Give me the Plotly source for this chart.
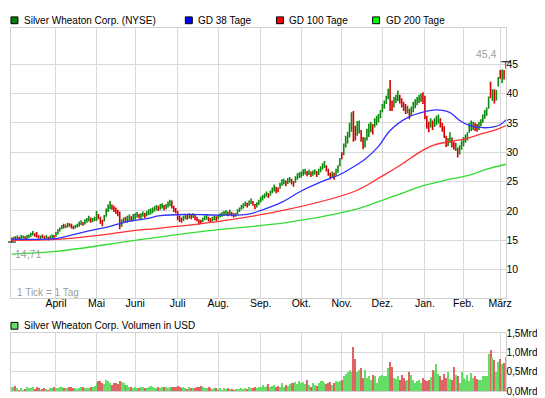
import plotly.graph_objects as go

W, H = 545, 398

# ---------------- data ----------------
month_names = ["März", "April", "Mai", "Juni", "Juli", "Aug.", "Sep.", "Okt.",
               "Nov.", "Dez.", "Jan.", "Feb.", "März"]
month_days = [23, 21, 20, 22, 21, 22, 21, 21, 21, 22, 20, 19, 4]

low = [
    14.71, 15.0, 15.1, 15.2, 15.0, 15.2, 15.3, 15.1, 15.2, 15.4, 15.6, 15.8, 15.6, 15.5, 15.3, 15.2, 15.4, 15.2, 15.3, 15.0, 15.2, 15.4, 15.3,
    15.6, 16.0, 16.5, 16.9, 17.0, 17.1, 17.2, 17.3, 17.0, 16.9, 17.0, 17.2, 17.3, 17.6, 17.5, 17.7, 18.0, 18.2, 18.0, 18.1, 18.3,
    18.3, 18.6, 17.8, 17.4, 18.2, 19.0, 19.8, 20.3, 20.2, 19.8, 19.5, 19.1, 16.9, 17.3, 17.9, 18.1, 18.0, 18.3, 18.2, 18.4,
    18.5, 18.9, 18.7, 18.6, 19.0, 18.8, 19.1, 19.3, 19.4, 19.6, 19.9, 20.1, 20.0, 20.2, 20.4, 20.1, 20.3, 20.6, 20.8, 20.4, 19.8, 19.6,
    18.4, 18.1, 18.0, 18.3, 18.6, 18.5, 18.7, 18.6, 18.8, 18.4, 18.2, 17.7, 17.8, 18.1, 18.4, 18.5, 18.2, 18.0, 18.2, 18.4, 18.3,
    18.6, 18.9, 19.0, 19.2, 19.3, 19.1, 19.3, 19.1, 18.9, 19.0, 19.4, 19.8, 20.2, 20.4, 20.8, 20.6, 20.9, 21.2, 20.9, 20.3, 20.6, 21.0,
    21.5, 21.8, 22.1, 22.4, 22.2, 22.6, 23.0, 23.3, 23.0, 23.2, 23.8, 24.3, 24.5, 24.2, 24.6, 24.8, 24.5, 24.1, 24.8, 25.3, 25.6,
    25.7, 26.0, 26.2, 25.9, 26.1, 25.8, 26.0, 26.2, 25.8, 26.1, 26.6, 27.0, 27.3, 26.7, 26.0, 25.4, 25.6, 25.3, 26.0, 26.5, 27.6,
    28.8, 29.5, 30.8, 31.5, 32.5, 33.5, 31.8, 32.0, 32.8, 33.2, 31.8, 30.5, 30.8, 32.0, 32.6, 33.4, 33.0, 34.2, 34.6, 35.1, 35.8,
    36.8, 37.4, 38.2, 39.0, 37.0, 37.0, 37.6, 38.4, 38.7, 38.3, 37.6, 37.0, 36.5, 36.6, 35.6, 36.2, 36.8, 37.5, 38.0, 38.4, 38.6, 38.2,
    35.6, 34.0, 33.4, 34.2, 33.8, 34.3, 34.6, 34.9, 34.2, 33.5, 32.4, 30.9, 31.0, 31.6, 30.8, 30.4, 30.2, 29.1, 29.6, 30.4,
    31.0, 31.6, 32.0, 33.3, 33.6, 33.8, 33.6, 33.5, 33.8, 34.4, 35.0, 35.7, 36.2, 37.4, 39.2, 38.7, 38.3, 38.8, 41.2,
    42.5, 41.8, 42.4, 44.2,
]
high = [
    15.5, 15.6, 15.7, 15.8, 15.6, 15.9, 15.8, 15.7, 15.9, 16.0, 16.3, 16.6, 16.2, 16.4, 15.9, 15.8, 16.0, 15.7, 15.9, 15.6, 15.8, 16.0, 15.9,
    16.4, 16.9, 17.2, 17.6, 17.8, 17.7, 18.0, 17.9, 17.8, 17.5, 17.6, 17.8, 18.2, 18.4, 18.1, 18.6, 18.8, 19.2, 18.9, 18.8, 19.0,
    20.0, 19.5, 19.0, 18.5, 19.3, 20.4, 21.1, 21.7, 21.1, 20.9, 20.6, 20.2, 19.9, 18.6, 18.9, 19.0, 19.2, 19.4, 19.1, 19.5,
    19.6, 19.8, 19.5, 19.6, 19.9, 19.7, 20.0, 20.3, 20.4, 20.6, 20.8, 21.0, 20.9, 21.2, 21.3, 21.0, 21.2, 21.6, 21.9, 21.8, 20.9, 20.5,
    20.0, 19.2, 18.9, 19.2, 19.5, 19.3, 19.6, 19.4, 19.6, 19.3, 19.0, 18.6, 18.5, 18.9, 19.2, 19.3, 19.0, 18.8, 19.0, 19.2, 19.1,
    19.4, 19.6, 19.8, 20.0, 20.1, 19.9, 20.2, 19.8, 19.6, 19.7, 20.3, 20.6, 21.0, 21.3, 21.6, 21.4, 21.8, 22.1, 21.7, 21.2, 21.5, 21.9,
    22.4, 22.7, 23.0, 23.3, 23.0, 23.5, 24.0, 24.5, 24.1, 24.0, 24.8, 25.4, 25.5, 25.2, 25.6, 25.8, 25.5, 25.1, 25.9, 26.4, 26.6,
    26.7, 27.1, 27.2, 26.8, 27.0, 26.7, 26.9, 27.1, 26.8, 27.2, 27.6, 28.1, 28.5, 27.8, 27.2, 26.5, 26.7, 26.5, 27.2, 27.8, 29.0,
    30.0, 31.5, 32.8, 33.5, 35.0, 36.8, 37.0, 34.5, 35.3, 35.4, 33.8, 32.6, 32.5, 34.0, 34.9, 35.2, 34.8, 35.8, 36.2, 36.5, 37.2,
    38.2, 38.8, 39.6, 40.8, 42.3, 38.8, 39.4, 39.8, 40.5, 39.8, 39.2, 38.6, 38.2, 37.9, 37.4, 37.8, 38.6, 39.0, 39.4, 39.8, 40.0, 40.2,
    39.6, 36.2, 35.2, 35.8, 35.4, 35.8, 36.2, 36.4, 35.8, 35.0, 34.4, 32.8, 32.4, 33.4, 32.5, 31.8, 31.6, 30.8, 31.2, 32.0,
    32.6, 33.0, 33.4, 35.0, 35.4, 35.2, 35.0, 34.8, 35.2, 35.6, 36.4, 37.2, 37.6, 39.5, 42.0, 40.7, 40.7, 40.6, 42.8,
    44.0, 44.1, 44.0, 45.4,
]
up = [
    1, 1, 0, 1, 0, 1, 1, 0, 1, 1, 1, 1, 0, 0, 0, 1, 0, 0, 1, 0, 1, 1, 0,
    1, 1, 1, 1, 0, 1, 1, 0, 0, 0, 1, 1, 1, 1, 0, 1, 1, 1, 0, 1, 1,
    1, 0, 0, 0, 1, 1, 1, 1, 0, 0, 0, 0, 0, 1, 1, 0, 1, 1, 0, 1,
    1, 1, 0, 1, 1, 0, 1, 1, 1, 1, 1, 1, 0, 1, 1, 0, 1, 1, 1, 0, 0, 0,
    0, 0, 0, 1, 1, 0, 1, 0, 1, 0, 0, 0, 0, 1, 1, 1, 0, 0, 1, 1, 0,
    1, 1, 1, 1, 1, 0, 1, 0, 0, 1, 1, 1, 1, 1, 1, 0, 1, 1, 0, 0, 1, 1,
    1, 1, 1, 1, 0, 1, 1, 1, 0, 0, 1, 1, 1, 0, 1, 1, 0, 0, 1, 1, 1,
    1, 1, 1, 0, 1, 0, 1, 1, 0, 1, 1, 1, 1, 0, 0, 0, 1, 0, 1, 1, 1,
    0, 1, 1, 1, 1, 1, 0, 0, 1, 1, 0, 0, 1, 1, 1, 1, 0, 1, 1, 1, 1,
    1, 1, 1, 1, 0, 0, 1, 1, 1, 0, 0, 0, 0, 1, 0, 1, 1, 1, 1, 1, 1, 0,
    0, 0, 0, 1, 0, 1, 1, 1, 0, 0, 0, 0, 1, 1, 0, 0, 1, 0, 1, 1,
    1, 1, 1, 1, 1, 1, 0, 0, 1, 1, 1, 1, 1, 1, 0, 1, 0, 1, 1,
    0, 1, 0, 1,
]
# volume in Mrd USD
volume = [
    0.10, 0.10, 0.13, 0.07, 0.04, 0.07, 0.04, 0.06, 0.11, 0.09, 0.09, 0.10, 0.06, 0.10, 0.07, 0.04, 0.06, 0.08, 0.06, 0.04, 0.07, 0.09, 0.10,
    0.08, 0.09, 0.10, 0.12, 0.08, 0.07, 0.09, 0.10, 0.12, 0.08, 0.07, 0.06, 0.09, 0.10, 0.11, 0.08, 0.07, 0.09, 0.10, 0.12, 0.14,
    0.22, 0.25, 0.25, 0.20, 0.18, 0.28, 0.26, 0.20, 0.17, 0.22, 0.20, 0.18, 0.27, 0.24, 0.20, 0.15, 0.17, 0.12, 0.10, 0.09,
    0.10, 0.08, 0.09, 0.12, 0.10, 0.07, 0.09, 0.11, 0.13, 0.10, 0.09, 0.08, 0.10, 0.09, 0.10, 0.11, 0.10, 0.09, 0.12, 0.11, 0.10, 0.12,
    0.13, 0.10, 0.08, 0.10, 0.09, 0.06, 0.10, 0.08, 0.07, 0.09, 0.12, 0.10, 0.13, 0.12, 0.09, 0.08, 0.10, 0.07, 0.06, 0.09, 0.08,
    0.05, 0.08, 0.04, 0.09, 0.06, 0.07, 0.05, 0.06, 0.04, 0.05, 0.06, 0.05, 0.07, 0.06, 0.08, 0.06, 0.10, 0.07, 0.08, 0.12, 0.09, 0.10,
    0.12, 0.15, 0.10, 0.13, 0.18, 0.12, 0.14, 0.16, 0.10, 0.13, 0.11, 0.22, 0.12, 0.15, 0.14, 0.18, 0.20, 0.22, 0.24, 0.19, 0.25,
    0.20, 0.24, 0.18, 0.30, 0.15, 0.12, 0.20, 0.17, 0.14, 0.22, 0.25, 0.27, 0.20, 0.18, 0.22, 0.24, 0.17, 0.20, 0.25, 0.23, 0.27,
    0.30, 0.40, 0.44, 0.50, 0.55, 0.50, 1.15, 0.82, 0.50, 0.55, 0.60, 0.35, 0.55, 0.35, 0.40, 0.30, 0.42, 0.38, 0.20, 0.35, 0.40,
    0.42, 0.38, 0.40, 0.60, 0.75, 0.62, 0.35, 0.32, 0.40, 0.30, 0.42, 0.35, 0.25, 0.30, 0.50, 0.42, 0.28, 0.20, 0.25, 0.30, 0.22, 0.35,
    0.28, 0.25, 0.30, 0.36, 0.55, 0.52, 0.70, 0.45, 0.38, 0.30, 0.45, 0.35, 0.50, 0.32, 0.28, 0.62, 0.42, 0.38, 0.22, 0.50,
    0.35, 0.30, 0.42, 0.25, 0.48, 0.35, 0.38, 0.32, 0.30, 0.30, 0.38, 0.38, 0.38, 0.95, 1.07, 0.85, 0.80, 0.50, 0.75,
    0.82, 0.70, 0.72, 0.88,
]

# moving averages read at sample days (day index, value)
gd38_day = [0, 23, 30, 40, 50, 60, 70, 77, 90, 109, 122, 130, 140, 150, 160, 170, 178, 183, 190, 196, 205, 214, 220, 227, 232, 237, 244, 249, 253, 256]
gd38_val = [15.2, 15.3, 15.8, 16.6, 17.3, 18.2, 18.7, 19.2, 19.4, 19.3, 19.4, 20.2, 21.5, 23.4, 24.9, 26.2, 27.7, 28.8, 31.0, 33.7, 35.9, 36.9, 37.2, 36.75, 35.4, 34.55, 34.17, 34.28, 34.67, 35.5]
gd100_day = [0, 23, 44, 64, 75, 109, 143, 178, 191, 202, 212, 219, 227, 236, 244, 251, 256]
gd100_val = [15.0, 15.15, 15.8, 16.7, 17.0, 18.3, 20.25, 23.4, 25.75, 27.95, 30.15, 31.25, 31.8, 32.35, 33.2, 33.85, 34.55]
gd200_day = [0, 23, 64, 101, 143, 178, 191, 202, 212, 224, 236, 246, 256]
gd200_val = [12.66, 13.1, 15.0, 16.6, 18.05, 20.25, 21.7, 23.0, 24.2, 25.2, 26.0, 27.1, 27.95]

price_ticks = [10, 15, 20, 25, 30, 35, 40, 45]
vol_ticks = [0, 0.5, 1.0, 1.5]
vol_ticktext = ["0,0Mrd", "0,5Mrd", "1,0Mrd", "1,5Mrd"]

assert len(low) == len(high) == len(up) == len(volume) == sum(month_days)

# ---------------- figure ----------------
n = len(low)
days = list(range(n))
month_start = []
acc = 0
for d in month_days:
    month_start.append(acc)
    acc += d

FONT = "Arial, Liberation Sans, sans-serif"
GRID = "#d9d9d9"
BORDER = "#d0d0d0"
P_UP, P_DN = "#0b8a0b", "#d40000"
V_UP, V_DN = "#66dd66", "#e06464"


def px(x):
    return x / W


def py(y):
    return 1 - y / H


fig = go.Figure()
# daily high-low bars; open/close placed at the range ends so the bar colour follows the day's direction
fig.add_trace(go.Ohlc(
    x=days,
    open=[l if u else h for l, h, u in zip(low, high, up)],
    close=[h if u else l for l, h, u in zip(low, high, up)],
    high=high, low=low, tickwidth=0,
    increasing=dict(line=dict(color=P_UP, width=1.6)),
    decreasing=dict(line=dict(color=P_DN, width=1.6)),
    xaxis="x", yaxis="y", hoverinfo="skip"))
for dd, vv, col in [(gd200_day, gd200_val, "#33dd33"),
                    (gd100_day, gd100_val, "#ff3030"),
                    (gd38_day, gd38_val, "#3030ff")]:
    fig.add_trace(go.Scatter(x=dd, y=vv, mode="lines",
                             line=dict(color=col, width=1.3, shape="spline", smoothing=1.0),
                             xaxis="x", yaxis="y", hoverinfo="skip"))
fig.add_trace(go.Bar(
    x=days, y=volume,
    marker=dict(color=[V_UP if u else V_DN for u in up], line=dict(width=0)),
    width=0.55, xaxis="x2", yaxis="y2", hoverinfo="skip"))

xdom = [px(3), px(503)]
xrange_ = [-0.3, n - 0.8]
common_x = dict(domain=xdom, range=xrange_, tickvals=month_start[1:], ticktext=month_names[1:],
                showgrid=True, gridcolor=GRID, gridwidth=1, zeroline=False, ticks="",
                showline=True, linecolor=BORDER, linewidth=1, mirror=True,
                rangeslider=dict(visible=False))

fig.update_layout(
    width=W, height=H, margin=dict(l=0, r=0, t=0, b=0),
    paper_bgcolor="white", plot_bgcolor="white", showlegend=False,
    barmode="overlay", bargap=0,
    font=dict(family=FONT, size=11, color="black"),
    xaxis=dict(anchor="y", tickfont=dict(size=10.5, color="black"), ticklabelstandoff=-5, **common_x),
    yaxis=dict(domain=[py(293), py(14)], range=[5.15, 51.22], side="right", anchor="x",
               tickvals=price_ticks, ticktext=[str(t) for t in price_ticks],
               showgrid=True, gridcolor=GRID, zeroline=False, ticks="",
               showline=True, linecolor=BORDER, mirror=True, ticklabelstandoff=-3,
               tickfont=dict(size=10.5, color="black")),
    xaxis2=dict(anchor="y2", showticklabels=False, **common_x),
    yaxis2=dict(domain=[py(389), py(329)], range=[0, 1.5], side="right", anchor="x2",
                tickvals=vol_ticks, ticktext=vol_ticktext,
                showgrid=True, gridcolor=GRID, zeroline=False, ticks="",
                showline=True, linecolor=BORDER, mirror=True, ticklabelstandoff=-3,
                tickfont=dict(size=10, color="black")),
)

shapes = []
annotations = []
legend = [("Silver Wheaton Corp. (NYSE)", "#008000", 3),
          ("GD 38 Tage", "#0000ff", 179),
          ("GD 100 Tage", "#ff0000", 271),
          ("GD 200 Tage", "#00ff00", 368)]
for text, col, sx in legend:
    shapes.append(dict(type="rect", xref="paper", yref="paper",
                       x0=px(sx), x1=px(sx + 7), y0=py(10), y1=py(3),
                       fillcolor=col, line=dict(color="black", width=1)))
    annotations.append(dict(text=text, xref="paper", yref="paper", x=px(sx + 11), y=py(6.5),
                            xanchor="left", yanchor="middle", showarrow=False,
                            font=dict(size=10, color="black")))
shapes.append(dict(type="rect", xref="paper", yref="paper",
                   x0=px(3), x1=px(10), y0=py(325), y1=py(318),
                   fillcolor=V_UP, line=dict(color="black", width=1)))
annotations.append(dict(text="Silver Wheaton Corp. Volumen in USD", xref="paper", yref="paper",
                        x=px(14), y=py(321.5), xanchor="left", yanchor="middle", showarrow=False,
                        font=dict(size=10, color="black")))

lo, hi = min(low), max(high)
shapes.append(dict(type="line", xref="paper", yref="y", x0=px(0), x1=px(8), y0=lo, y1=lo,
                   line=dict(color="black", width=1)))
shapes.append(dict(type="line", xref="paper", yref="y", x0=px(498), x1=px(507), y0=hi, y1=hi,
                   line=dict(color="black", width=1)))
annotations.append(dict(text=f"{lo:.2f}".replace(".", ","), xref="paper", yref="paper",
                        x=px(5), y=py(247), xanchor="left", yanchor="middle", showarrow=False,
                        font=dict(size=10.5, color="#a0a0a0")))
annotations.append(dict(text=f"{hi:.1f}".replace(".", ","), xref="paper", yref="paper",
                        x=px(496), y=py(41.5), xanchor="right", yanchor="middle", showarrow=False,
                        font=dict(size=10.5, color="#a0a0a0")))
annotations.append(dict(text="1 Tick = 1 Tag", xref="paper", yref="paper",
                        x=px(7), y=py(287.5), xanchor="left", yanchor="middle", showarrow=False,
                        font=dict(size=10, color="#a0a0a0")))

fig.update_layout(shapes=shapes, annotations=annotations)
fig.write_html("out.html")
